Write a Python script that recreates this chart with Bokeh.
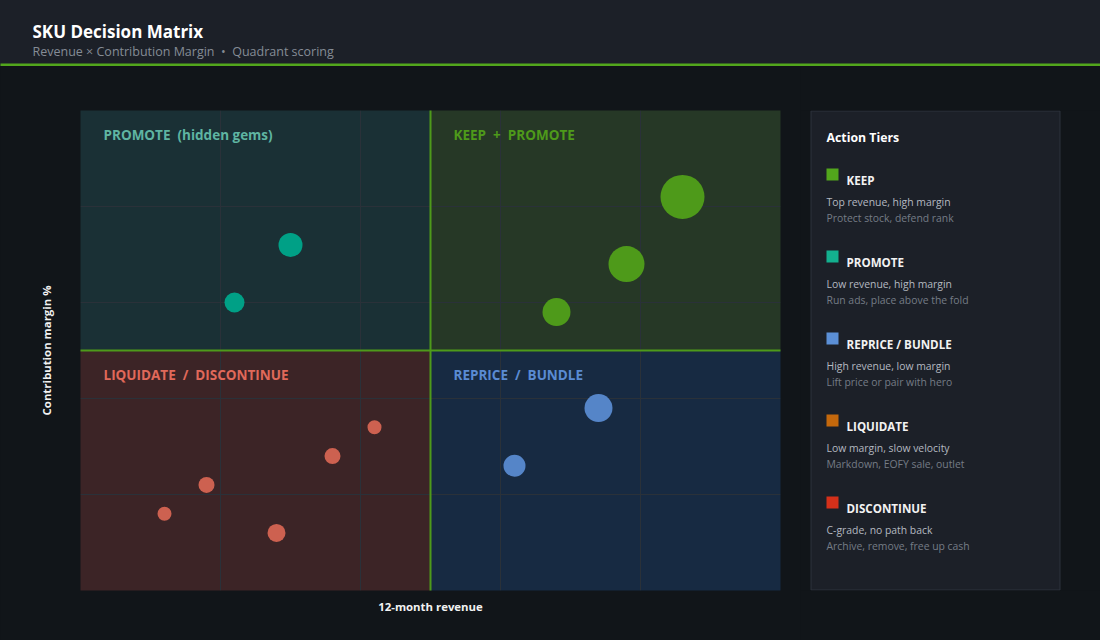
from bokeh.plotting import figure
from bokeh.layouts import column, row
from bokeh.models import Range1d, FixedTicker, ColumnDataSource
from bokeh.core.properties import value
from bokeh.embed import file_html
from bokeh.resources import INLINE

# ---- SKU scores (0-100 scale) ----
sku_revenue = [86, 78, 68, 30, 22, 74, 62, 42, 36, 18, 12, 28]
sku_margin = [82, 68, 58, 72, 60, 38, 26, 34, 28, 22, 16, 12]
sku_units_k = [22, 18, 14, 12, 10, 14, 11, 7, 8, 8, 7, 9]

revenue_cut = 50
margin_cut = 50

# ---- action tiers ----
tier_names = ["KEEP", "PROMOTE", "REPRICE / BUNDLE", "LIQUIDATE", "DISCONTINUE"]
tier_colors = ["#52a61c", "#13b08f", "#5b8fd6", "#c4680c", "#d4301a"]
tier_line1 = ["Top revenue, high margin", "Low revenue, high margin",
              "High revenue, low margin", "Low margin, slow velocity",
              "C-grade, no path back"]
tier_line2 = ["Protect stock, defend rank", "Run ads, place above the fold",
              "Lift price or pair with hero", "Markdown, EOFY sale, outlet",
              "Archive, remove, free up cash"]

# non-breaking spaces keep the wide gaps in svg text
quad_titles = ["PROMOTE \u00a0(hidden gems)", "KEEP \u00a0+ \u00a0PROMOTE",
               "LIQUIDATE \u00a0/ \u00a0DISCONTINUE", "REPRICE \u00a0/ \u00a0BUNDLE"]
subtitle = "Revenue \u00d7 Contribution Margin \u00a0\u2022 \u00a0Quadrant scoring"

FONT = "Open Sans"
BG = "#111519"
PANEL = "#1c2028"

# quadrant styling: top-left, top-right, bottom-left, bottom-right
quad_fill = ["#1a3035", "#263826", "#3c2426", "#172a42"]
quad_text = ["#5fb5a2", "#4e9a1a", "#e0695a", "#5a8bd2"]
point_color = {"TL": "#00a086", "TR": "#4e9a1a", "BL": "#cd6150", "BR": "#5585c8"}

# ---------------- header ----------------
hdr = figure(width=1100, height=66, x_range=Range1d(0, 1100), y_range=Range1d(66, 0),
             output_backend="svg", toolbar_location=None, min_border=0,
             styles={"background-color": PANEL})
hdr.axis.visible = False
hdr.grid.visible = False
hdr.outline_line_color = None
hdr.background_fill_color = PANEL
hdr.border_fill_color = PANEL
hdr.quad(left=-5, right=1105, top=63, bottom=70, fill_color="#52a61c", line_color=None)
hdr.text(x=[32], y=[31], text=["SKU Decision Matrix"], text_font=value(FONT),
         text_font_style="bold", text_font_size="17px", text_color="#ffffff",
         text_baseline="middle")
hdr.text(x=[32], y=[51], text=[subtitle],
         text_font=value(FONT), text_font_size="12.5px", text_color="#858c96",
         text_baseline="middle")

# ---------------- matrix ----------------
p = figure(width=800, height=574, x_range=Range1d(0, 100), y_range=Range1d(0, 100),
           output_backend="svg", toolbar_location=None,
           min_border_left=80, min_border_right=20, min_border_top=44, min_border_bottom=50,
           styles={"background-color": BG})
p.background_fill_color = BG
p.border_fill_color = BG
p.outline_line_color = None

x0, x1 = p.x_range.start, p.x_range.end
y0, y1 = p.y_range.start, p.y_range.end
pad = 2  # run fills past the frame so the clip edge stays crisp
p.quad(left=[x0 - pad, revenue_cut, x0 - pad, revenue_cut],
       right=[revenue_cut, x1 + pad, revenue_cut, x1 + pad],
       bottom=[margin_cut, margin_cut, y0 - pad, y0 - pad],
       top=[y1 + pad, y1 + pad, margin_cut, margin_cut],
       fill_color=quad_fill, line_color=None, level="image")

p.xgrid.ticker = FixedTicker(ticks=[20, 40, 60, 80])
p.ygrid.ticker = FixedTicker(ticks=[20, 40, 60, 80])
p.grid.grid_line_color = "#2a3139"
p.grid.grid_line_width = 1

for ax in (p.xaxis, p.yaxis):
    ax.ticker = FixedTicker(ticks=[])
    ax.major_label_text_font_size = "0px"
    ax.major_label_standoff = 0
    ax.axis_line_color = None
    ax.major_tick_line_color = None
    ax.minor_tick_line_color = None
    ax.axis_label_text_color = "#f2f2f2"
    ax.axis_label_text_font = FONT
    ax.axis_label_text_font_style = "bold"
    ax.axis_label_text_font_size = "11.4px"
p.xaxis.axis_label = "12-month revenue"
p.yaxis.axis_label = "Contribution margin %"
p.xaxis.axis_label_standoff = 8
p.yaxis.axis_label_standoff = 27

# quadrant dividers
p.segment(x0=[revenue_cut, x0 - pad], y0=[y0 - pad, margin_cut],
          x1=[revenue_cut, x1 + pad], y1=[y1 + pad, margin_cut],
          line_color="#4e9a1a", line_width=2)

# quadrant titles
p.text(x=[x0, revenue_cut, x0, revenue_cut], y=[y1, y1, margin_cut, margin_cut],
       text=quad_titles, x_offset=23, y_offset=24, text_color=quad_text,
       text_font=value(FONT), text_font_style="bold", text_font_size="13.5px",
       text_baseline="middle")

quadrant = []
for rv, mg in zip(sku_revenue, sku_margin):
    quadrant.append(("T" if mg >= margin_cut else "B") + ("R" if rv >= revenue_cut else "L"))
src = ColumnDataSource(dict(
    x=sku_revenue, y=sku_margin,
    size=[2 * u for u in sku_units_k],
    color=[point_color[q] for q in quadrant],
))
p.scatter("x", "y", size="size", fill_color="color", line_color=None, source=src)

# ---------------- action tiers panel ----------------
lg = figure(width=300, height=574, x_range=Range1d(800, 1100), y_range=Range1d(590, 110),
            output_backend="svg", toolbar_location=None,
            min_border_left=0, min_border_right=0, min_border_top=44, min_border_bottom=50,
            styles={"background-color": BG})
lg.axis.visible = False
lg.grid.visible = False
lg.outline_line_color = None
lg.background_fill_color = BG
lg.border_fill_color = BG
lg.quad(left=810.5, right=1059.5, top=110.5, bottom=589.5, fill_color=PANEL,
        line_color="#2c333d", line_width=1)
lg.text(x=[826], y=[137], text=["Action Tiers"], text_font=value(FONT),
        text_font_style="bold", text_font_size="12.3px", text_color="#ffffff",
        text_baseline="middle")

row_y = [168 + 82 * i for i in range(len(tier_names))]
lg.quad(left=826, right=838, top=row_y, bottom=[y + 12 for y in row_y],
        fill_color=tier_colors, line_color=None)
lg.text(x=846, y=[y + 12 for y in row_y], text=tier_names, text_font=value(FONT),
        text_font_style="bold", text_font_size="11.6px", text_color="#f2f2f2",
        text_baseline="middle")
lg.text(x=826, y=[y + 33 for y in row_y], text=tier_line1, text_font=value(FONT),
        text_font_size="10.4px", text_color="#b4b9c0", text_baseline="middle")
lg.text(x=826, y=[y + 49 for y in row_y], text=tier_line2, text_font=value(FONT),
        text_font_size="10.4px", text_color="#757c86", text_baseline="middle")

layout = column(hdr, row(p, lg, spacing=0, styles={"background-color": BG}),
                spacing=0, styles={"background-color": BG})
open("out.html", "w").write(file_html(layout, INLINE))
